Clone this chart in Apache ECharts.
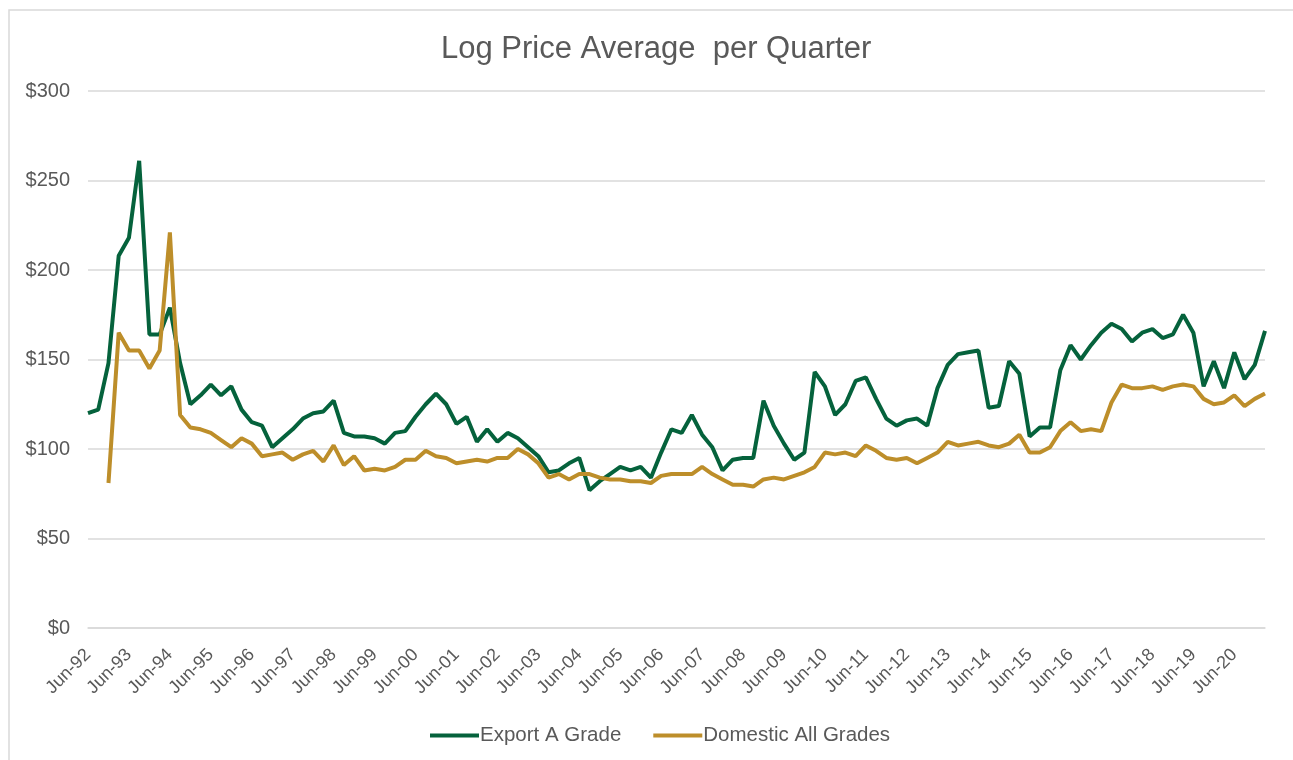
<!DOCTYPE html>
<html>
<head>
<meta charset="utf-8">
<script src="https://cdn.jsdelivr.net/npm/echarts@6/dist/echarts.min.js"></script>
<style>
  html, body { margin: 0; padding: 0; background: #fff; }
  #content { width: 1293px; height: 760px; }
</style>
</head>
<body>
<div id="content"></div>
<script>
// quarterly categories, Jun-92 .. Mar-21
var quarters = [
  'Jun-92','Sep-92','Dec-92','Mar-93','Jun-93','Sep-93','Dec-93','Mar-94',
  'Jun-94','Sep-94','Dec-94','Mar-95','Jun-95','Sep-95','Dec-95','Mar-96',
  'Jun-96','Sep-96','Dec-96','Mar-97','Jun-97','Sep-97','Dec-97','Mar-98',
  'Jun-98','Sep-98','Dec-98','Mar-99','Jun-99','Sep-99','Dec-99','Mar-00',
  'Jun-00','Sep-00','Dec-00','Mar-01','Jun-01','Sep-01','Dec-01','Mar-02',
  'Jun-02','Sep-02','Dec-02','Mar-03','Jun-03','Sep-03','Dec-03','Mar-04',
  'Jun-04','Sep-04','Dec-04','Mar-05','Jun-05','Sep-05','Dec-05','Mar-06',
  'Jun-06','Sep-06','Dec-06','Mar-07','Jun-07','Sep-07','Dec-07','Mar-08',
  'Jun-08','Sep-08','Dec-08','Mar-09','Jun-09','Sep-09','Dec-09','Mar-10',
  'Jun-10','Sep-10','Dec-10','Mar-11','Jun-11','Sep-11','Dec-11','Mar-12',
  'Jun-12','Sep-12','Dec-12','Mar-13','Jun-13','Sep-13','Dec-13','Mar-14',
  'Jun-14','Sep-14','Dec-14','Mar-15','Jun-15','Sep-15','Dec-15','Mar-16',
  'Jun-16','Sep-16','Dec-16','Mar-17','Jun-17','Sep-17','Dec-17','Mar-18',
  'Jun-18','Sep-18','Dec-18','Mar-19','Jun-19','Sep-19','Dec-19','Mar-20',
  'Jun-20','Sep-20','Dec-20','Mar-21'
];

// Export A Grade
var exportA = [
  120, 122, 148, 208, 218, 261, 164, 164, 179, 148, 125, 130, 136, 130, 135, 122,
  115, 113, 101, 106, 111, 117, 120, 121, 127, 109, 107, 107, 106, 103, 109, 110,
  118, 125, 131, 125, 114, 118, 104, 111, 104, 109, 106, 101, 96, 87, 88, 92,
  95, 77, 82, 86, 90, 88, 90, 84, 98, 111, 109, 119, 108, 101, 88, 94,
  95, 95, 127, 113, 103, 94, 98, 143, 135, 119, 125, 138, 140, 128, 117, 113,
  116, 117, 113, 134, 147, 153, 154, 155, 123, 124, 149, 142, 107, 112, 112, 144,
  158, 150, 158, 165, 170, 167, 160, 165, 167, 162, 164, 175, 165, 135, 149, 134,
  154, 139, 147, 166
];

// Domestic All Grades (no data for first two quarters)
var domestic = [
  null, null, 81, 165, 155, 155, 145, 155, 221, 119, 112, 111, 109, 105, 101, 106,
  103, 96, 97, 98, 94, 97, 99, 93, 102, 91, 96, 88, 89, 88, 90, 94,
  94, 99, 96, 95, 92, 93, 94, 93, 95, 95, 100, 97, 92, 84, 86, 83,
  86, 86, 84, 83, 83, 82, 82, 81, 85, 86, 86, 86, 90, 86, 83, 80,
  80, 79, 83, 84, 83, 85, 87, 90, 98, 97, 98, 96, 102, 99, 95, 94,
  95, 92, 95, 98, 104, 102, 103, 104, 102, 101, 103, 108, 98, 98, 101, 110,
  115, 110, 111, 110, 126, 136, 134, 134, 135, 133, 135, 136, 135, 128, 125, 126,
  130, 124, 128, 131
];

var yTicks = [0, 50, 100, 150, 200, 250, 300];

var font = "'Liberation Sans', Arial, sans-serif";
var green = '#05623c';
var gold = '#bd8e2a';

var myChart = echarts.init(document.getElementById('content'));
myChart.setOption({
  backgroundColor: '#fff',
  animation: false,
  graphic: [{
    type: 'rect',
    shape: { x: 9, y: 10, width: 1300, height: 800 },
    style: { fill: 'none', stroke: '#d9d9d9', lineWidth: 1.5 },
    silent: true
  }],
  title: {
    text: 'Log Price Average  per Quarter',
    left: 436,
    top: 29,
    textStyle: { fontFamily: font, fontSize: 31, fontWeight: 'normal', color: '#595959' }
  },
  legend: {
    bottom: 9,
    left: 425,
    icon: 'rect',
    itemWidth: 49,
    itemHeight: 4,
    itemGap: 32,
    textStyle: { fontFamily: font, fontSize: 20.5, color: '#595959', padding: [0, 0, 0, -4] },
    data: ['Export A Grade', 'Domestic All Grades']
  },
  grid: { left: 88, right: 28, top: 91, bottom: 132, containLabel: false },
  xAxis: {
    type: 'category',
    data: quarters,
    boundaryGap: false,
    axisLine: { show: true, lineStyle: { color: '#d9d9d9', width: 1.5 } },
    axisTick: { show: false },
    axisLabel: {
      interval: 3,
      rotate: 45,
      margin: 24,
      fontFamily: font,
      fontSize: 18,
      color: '#595959'
    }
  },
  yAxis: {
    type: 'value',
    min: yTicks[0],
    max: yTicks[yTicks.length - 1],
    interval: 50,
    axisLine: { show: false },
    axisTick: { show: false },
    splitLine: { lineStyle: { color: '#d9d9d9', width: 1.5 } },
    axisLabel: {
      margin: 18,
      fontFamily: font,
      fontSize: 20,
      color: '#595959',
      formatter: function (v) { return '$' + v; }
    }
  },
  series: [
    {
      name: 'Export A Grade',
      type: 'line',
      data: exportA,
      symbol: 'none',
      lineStyle: { color: green, width: 4 },
      itemStyle: { color: green }
    },
    {
      name: 'Domestic All Grades',
      type: 'line',
      data: domestic,
      symbol: 'none',
      lineStyle: { color: gold, width: 4 },
      itemStyle: { color: gold }
    }
  ]
});
</script>
</body>
</html>
